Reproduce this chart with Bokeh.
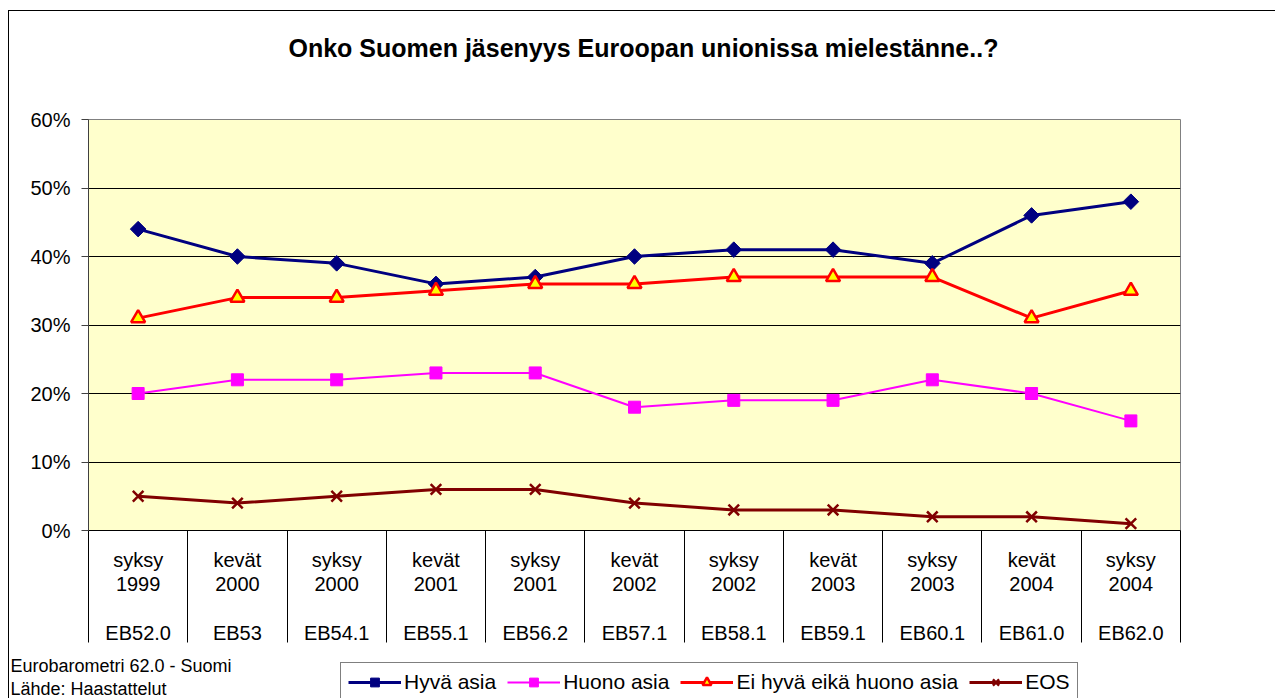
from bokeh.plotting import figure
from bokeh.layouts import column
from bokeh.models import (Range1d, FixedTicker, PrintfTickFormatter, Label,
                          Legend, LegendItem, Title)
from bokeh.embed import file_html
from bokeh.resources import INLINE

seasons = ["syksy", "kevät", "syksy", "kevät", "syksy", "kevät", "syksy",
           "kevät", "syksy", "kevät", "syksy"]
years = ["1999", "2000", "2000", "2001", "2001", "2002", "2002", "2003",
         "2003", "2004", "2004"]
surveys = ["EB52.0", "EB53", "EB54.1", "EB55.1", "EB56.2", "EB57.1",
           "EB58.1", "EB59.1", "EB60.1", "EB61.0", "EB62.0"]

hyva = [44, 40, 39, 36, 37, 40, 41, 41, 39, 46, 48]
huono = [20, 22, 22, 23, 23, 18, 19, 19, 22, 20, 16]
ei_hyva = [31, 34, 34, 35, 36, 36, 37, 37, 37, 31, 35]
eos = [5, 4, 5, 6, 6, 4, 3, 3, 2, 2, 1]

y_ticks = [0, 10, 20, 30, 40, 50, 60]

series_names = ["Hyvä asia", "Huono asia", "Ei hyvä eikä huono asia", "EOS"]
title_text = "Onko Suomen jäsenyys Euroopan unionissa mielestänne..?"
notes = ["Eurobarometri 62.0 - Suomi", "Lähde: Haastattelut"]

FONT = "Liberation Sans"
n = len(seasons)
xs = [i + 0.5 for i in range(n)]

W = 1266
p = figure(width=W, height=643, output_backend="svg", toolbar_location=None,
           x_range=Range1d(0, n), y_range=Range1d(0, 60),
           min_border_left=79, min_border_right=95,
           min_border_top=108, min_border_bottom=124)
p.frame_align = False
p.background_fill_color = "#FFFFCC"
p.border_fill_color = "white"
p.outline_line_color = "#808080"
p.outline_line_width = 1

# main title (outer panel)
p.title.text = title_text
p.title.align = "left"
p.title.offset = 200
p.title.standoff = 0
p.title.vertical_align = "bottom"
p.title.text_font = FONT
p.title.text_font_size = "25px"
p.title.text_font_style = "bold"
p.title.text_color = "black"

# empty spacer panel between the title and the plot area
spacer = Title(text=" ", text_font_size="10px", standoff=45)
p.add_layout(spacer, "above")

# x axis: category table
p.xaxis.ticker = FixedTicker(ticks=xs, minor_ticks=list(range(n + 1)))
p.xaxis.major_label_overrides = {
    x: f"{s}\n{y}\n \n{e}" for x, s, y, e in zip(xs, seasons, years, surveys)
}
p.xaxis.major_tick_out = 0
p.xaxis.major_tick_in = 0
p.xaxis.minor_tick_out = 112
p.xaxis.minor_tick_in = 0
p.xaxis.minor_tick_line_color = "black"
p.xaxis.axis_line_color = "black"
p.xaxis.major_label_text_font = FONT
p.xaxis.major_label_text_font_size = "20px"
p.xaxis.major_label_text_color = "black"
p.xaxis.major_label_text_line_height = 1.12
p.xaxis.major_label_standoff = -94
p.xaxis.major_label_orientation = "horizontal"

# y axis
p.yaxis.ticker = FixedTicker(ticks=y_ticks)
p.yaxis.formatter = PrintfTickFormatter(format="%d%%")
p.yaxis.major_tick_out = 7
p.yaxis.major_tick_in = 0
p.yaxis.minor_tick_line_color = None
p.yaxis.axis_line_color = "#404040"
p.yaxis.major_tick_line_color = "#404040"
p.yaxis.major_label_text_font = FONT
p.yaxis.major_label_text_font_size = "20px"
p.yaxis.major_label_text_color = "black"
p.yaxis.major_label_standoff = 11

p.xgrid.grid_line_color = None
p.ygrid.ticker = FixedTicker(ticks=y_ticks[1:-1])
p.ygrid.grid_line_color = "black"
p.ygrid.grid_line_width = 1

# series
styles = [
    dict(line_color="#000080", line_width=3, marker="square", angle=0.7854,
         size=11, fill_color="#000080", m_line="#000080", m_width=1),
    dict(line_color="#FF00FF", line_width=2, marker="square", angle=0,
         size=12, fill_color="#FF00FF", m_line="#FF00FF", m_width=1),
    dict(line_color="#FF0000", line_width=3, marker="triangle", angle=0,
         size=14, fill_color="#FFFF00", m_line="#FF0000", m_width=2.5),
    dict(line_color="#800000", line_width=3, marker="x", angle=0,
         size=15, fill_color=None, m_line="#800000", m_width=2.5),
]
all_series = [hyva, huono, ei_hyva, eos]


def add_series(fig, vals, st):
    lr = fig.line(xs, vals, line_color=st["line_color"],
                  line_width=st["line_width"])
    mr = fig.scatter(xs, vals, marker=st["marker"], angle=st["angle"],
                     size=st["size"], fill_color=st["fill_color"],
                     line_color=st["m_line"], line_width=st["m_width"])
    return lr, mr


for vals, st in zip(all_series, styles):
    add_series(p, vals, st)

# bottom strip: notes + legend (its ranges keep the series out of view,
# so only the legend keys show)
q = figure(width=W, height=44, output_backend="svg", toolbar_location=None,
           x_range=Range1d(0, 1), y_range=Range1d(-3, -2),
           x_axis_type=None, y_axis_type=None, min_border=0)
q.frame_align = False
q.outline_line_color = None
q.grid.grid_line_color = None
q.background_fill_color = "white"
q.border_fill_color = "white"

items = []
for name, vals, st in zip(series_names, all_series, styles):
    lr, mr = add_series(q, vals, st)
    items.append(LegendItem(label=name, renderers=[lr, mr]))

legend = Legend(items=items, orientation="horizontal", location=(331, -4),
                glyph_width=53, glyph_height=22, label_standoff=3, spacing=11,
                padding=7, margin=0,
                label_text_font=FONT, label_text_font_size="21px",
                label_text_color="black", label_height=22,
                border_line_color="black", border_line_width=1,
                background_fill_color="white", background_fill_alpha=1)
q.add_layout(legend)

for txt, yy in zip(notes, [33, 10]):
    q.add_layout(Label(x=1, y=yy, x_units="screen", y_units="screen",
                       text=txt, text_font=FONT, text_font_size="18px",
                       text_baseline="middle", text_color="black"))

layout = column(p, q, spacing=0)
layout.styles = {"margin-left": "8px", "margin-top": "10px",
                 "border-left": "1px solid black",
                 "border-top": "1px solid black"}

open("out.html", "w").write(file_html(layout, INLINE))
